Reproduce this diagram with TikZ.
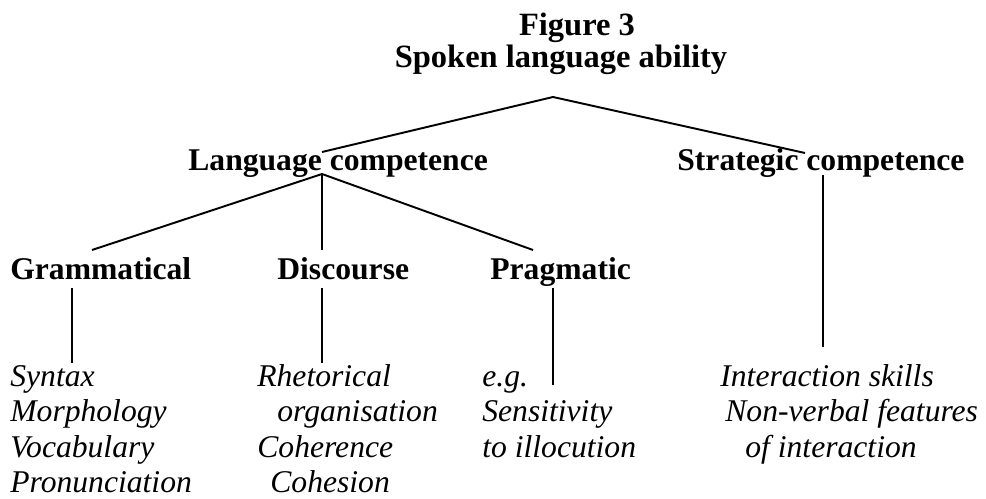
\documentclass[tikz,border=0pt]{standalone}
\usepackage{fontspec}
\setmainfont{Liberation Serif}
\usetikzlibrary{positioning}

\tikzset{
	title/.style={inner sep=0pt,anchor=base,font=\fontsize{18.5}{20}\selectfont\bfseries},
	head/.style={inner sep=0pt,anchor=base west,font=\fontsize{18}{20}\selectfont\bfseries},
	item/.style={inner sep=0pt,anchor=base west,font=\fontsize{18}{20}\selectfont\itshape},
	branch/.style={line width=1.1pt},
	stem/.style={line width=0.8pt}
}

\begin{document}
\begin{tikzpicture}[x=0.02cm,y=-0.02cm]
			\useasboundingbox (0,0) rectangle (986,499);

			\node[title](fig) at (577,36){Figure 3};
			\node[title](ability) at (561,68){Spoken language ability};

			\node[head](lang) at (188,171){Language competence};
			\node[head](strat) at (677,171){Strategic competence};
			\node[head](gram) at (10,280){Grammatical};
			\node[head](disc) at (277,280){Discourse};
			\node[head](prag) at (490,280){Pragmatic};

			% lists under each heading
			\foreach \x/\t [count=\n] in {10/Syntax,10/Morphology,10/Vocabulary,10/Pronunciation}
				\node[item](gr\n) at (\x,350.5+35.6*\n){\t};
			\foreach \x/\t [count=\n] in {257/Rhetorical,277/organisation,257/Coherence,270/Cohesion}
				\node[item](di\n) at (\x,350.5+35.6*\n){\t};
			\foreach \x/\t [count=\n] in {482/e.g.,482/Sensitivity,482/to illocution}
				\node[item](pr\n) at (\x,350.5+35.6*\n){\t};
			\foreach \x/\t [count=\n] in {720/Interaction skills,725/Non-verbal features,745/of interaction}
				\node[item](st\n) at (\x,350.5+35.6*\n){\t};

			% ends of the connectors
			\coordinate (ability-s) at (553,97);
			\coordinate (lang-n) at (322,152);
			\coordinate (lang-s) at (322,174);
			\coordinate (strat-n) at (805,153);
			\coordinate (strat-s) at (823,175);
			\coordinate (strat-e) at (823,347);
			\coordinate (gram-n) at (92,250);
			\coordinate (disc-n) at (322,250);
			\coordinate (prag-n) at (533,250);
			\coordinate (gram-s) at (72,288);
			\coordinate (gram-e) at (72,363);
			\coordinate (disc-s) at (322,288);
			\coordinate (disc-e) at (322,363);
			\coordinate (prag-s) at (553,288);
			\coordinate (prag-e) at (553,385);

			\path [branch]
				(ability-s) edge (lang-n)
				(ability-s) edge (strat-n)
				(lang-s) edge (gram-n)
				(lang-s) edge (disc-n)
				(lang-s) edge (prag-n);
			\path [stem]
				(gram-s) edge (gram-e)
				(disc-s) edge (disc-e)
				(prag-s) edge (prag-e)
				(strat-s) edge (strat-e);
\end{tikzpicture}
\end{document}
